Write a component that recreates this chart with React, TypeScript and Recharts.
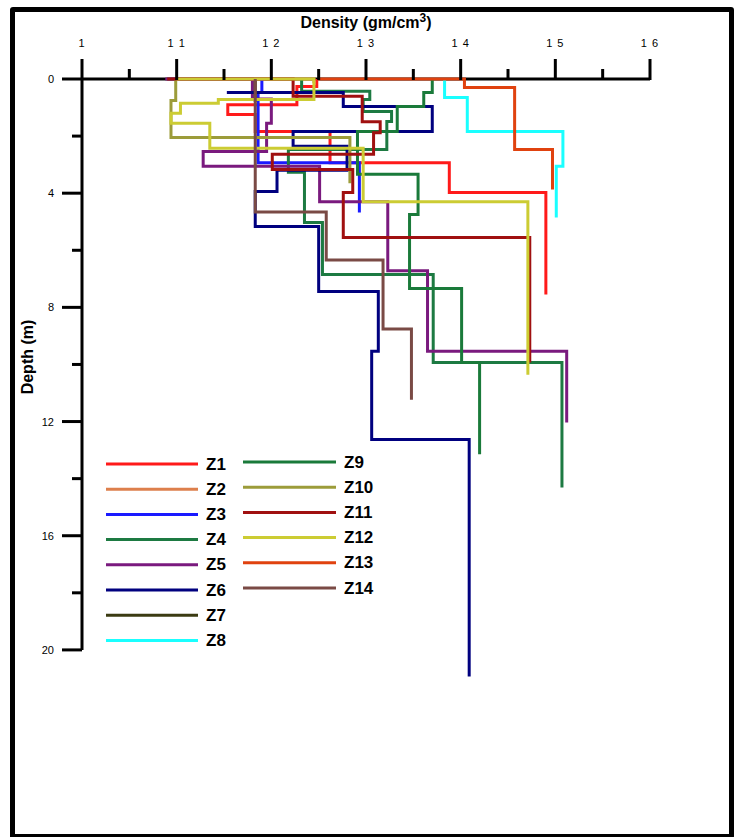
import * as React from "react";
import { Legend, ReferenceLine, Scatter, ScatterChart, XAxis, YAxis } from "recharts";

/* ────────────── data: each zone = [top depth (m), density (gm/cm3)] layers ────────────── */

const ZONE_NAMES = ["Z1", "Z2", "Z3", "Z4", "Z5", "Z6", "Z7", "Z8", "Z9", "Z10", "Z11", "Z12", "Z13", "Z14"];
const ZONE_COLORS = [
  "#ff1a1a", "#dd7f4c", "#1a1aff", "#1d7a42", "#7a1a7e", "#00007f", "#3b3b12",
  "#1affff", "#1a7a3a", "#9c9c3a", "#a01010", "#cccc33", "#e0420f", "#7a4a45",
];

const Z1 = [[0, 1.248], [0.26, 1.227], [0.9, 1.154], [1.24, 1.183], [1.84, 1.262], [2.93, 1.388], [3.98, 1.49]];
const Z2 = [[0, 1.1], [0, 1.245]];
const Z3 = [[0, 1.19], [0.47, 1.186], [2.93, 1.293]];
const Z4 = [[0, 1.232], [0.43, 1.304], [0.72, 1.297], [1.14, 1.327], [1.49, 1.322], [2.47, 1.218], [3.27, 1.235], [5.03, 1.254], [6.85, 1.371], [9.93, 1.507]];
const Z5 = [[0, 1.088], [0, 1.18], [0.7, 1.2], [1.55, 1.195], [2.54, 1.128], [3.06, 1.251], [4.3, 1.323], [6.72, 1.365], [9.54, 1.512]];
const Z6 = [[0.47, 1.153], [0.47, 1.276], [0.96, 1.37], [1.84, 1.223], [2.36, 1.28], [3.2, 1.206], [3.94, 1.183], [5.17, 1.25], [7.44, 1.313], [9.54, 1.306], [12.63, 1.409]];
const Z7 = [[0, 1.183]];
const Z8 = [[0, 1.383], [0.65, 1.407], [1.84, 1.508], [3.06, 1.501]];
const Z9 = [[0, 1.37], [0.47, 1.361], [0.96, 1.333], [1.84, 1.291], [3.34, 1.355], [4.75, 1.346], [7.34, 1.401], [9.93, 1.42]];
const Z10 = [[0, 1.099], [0.75, 1.094], [2.05, 1.283]];
const Z11 = [[0, 1.09], [0, 1.223], [0.6, 1.296], [1.5, 1.315], [1.88, 1.308], [2.64, 1.201], [3.17, 1.286], [3.98, 1.276], [5.55, 1.473]];
const Z12 = [[0, 1.1], [0, 1.245], [0.72, 1.144], [0.85, 1.104], [1.2, 1.094], [1.55, 1.135], [2.43, 1.297], [4.3, 1.471]];
const Z13 = [[0, 1.25], [0, 1.404], [0.3, 1.457], [2.47, 1.497]];
const Z14 = [[0, 1.183], [4.66, 1.258], [6.34, 1.318], [8.76, 1.348]];

const ZONE_LAYERS = [Z1, Z2, Z3, Z4, Z5, Z6, Z7, Z8, Z9, Z10, Z11, Z12, Z13, Z14];
// depth where the last layer of each zone ends
const ZONE_BOTTOMS = [7.55, 0.15, 4.68, 14.31, 12.03, 20.93, 0.8, 4.85, 13.15, 3.65, 9.93, 10.36, 3.87, 11.24];

const X_TICKS = [1, 1.05, 1.1, 1.15, 1.2, 1.25, 1.3, 1.35, 1.4, 1.45, 1.5, 1.55, 1.6];
const X_TICK_LABELS = ["1", "1 1", "1 2", "1 3", "1 4", "1 5", "1 6"];
const Y_TICKS = [0, 2, 4, 6, 8, 10, 12, 14, 16, 18, 20];
const Y_MAJOR = [0, 4, 8, 12, 16, 20];

const FONT = "Arial, 'Liberation Sans', sans-serif";

/* ────────────── helpers ────────────── */

// step profile: each layer is a vertical run, then a horizontal jump to the next density
function profilePoints(layers: number[][], bottom: number) {
  const pts: { density: number; depth: number }[] = [];
  layers.forEach(([top, dens], i) => {
    const next = i + 1 < layers.length ? layers[i + 1][0] : bottom;
    pts.push({ density: dens, depth: top }, { density: dens, depth: next });
  });
  return pts;
}

const isMajorX = (v: number) => Math.abs(v * 10 - Math.round(v * 10)) < 1e-6;

function XTick(props: any) {
  const { x, y, payload } = props;
  const v = payload.value as number;
  const major = isMajorX(v);
  return (
    <g>
      <line x1={x} x2={x} y1={y + 1} y2={y - (major ? 20 : 10)} stroke="#000" strokeWidth={3} />
      {major && (
        <text x={x} y={y - 32} textAnchor="middle" fontSize={11} fontFamily={FONT} letterSpacing={1} fill="#000">
          {X_TICK_LABELS[Math.round((v - 1) * 10)]}
        </text>
      )}
    </g>
  );
}

function YTick(props: any) {
  const { x, y, payload } = props;
  const v = payload.value as number;
  const major = Y_MAJOR.includes(v);
  return (
    <g>
      <line x1={x - (major ? 20 : 10)} x2={x} y1={y} y2={y} stroke="#000" strokeWidth={3} />
      {major && (
        <text x={x - 28} y={y + 4} textAnchor="end" fontSize={11} fontFamily={FONT} fill="#000">
          {v}
        </text>
      )}
    </g>
  );
}

function XTitle() {
  return (
    <text x={366} y={28} textAnchor="middle" fontSize={16} fontWeight="bold" fontFamily={FONT} fill="#000">
      <tspan>Density (gm/cm</tspan>
      <tspan dy={-6} fontSize={12}>3</tspan>
      <tspan dy={6}>)</tspan>
    </text>
  );
}

function YTitle() {
  return (
    <text
      x={27}
      y={357}
      transform="rotate(-90 27 357)"
      textAnchor="middle"
      dominantBaseline="central"
      fontSize={16}
      fontWeight="bold"
      fontFamily={FONT}
      fill="#000"
    >
      Depth (m)
    </text>
  );
}

function ZoneLegend(props: any) {
  const payload = (props.payload ?? []) as { value: string; color: string }[];
  return (
    <svg width={735} height={837} style={{ display: "block" }}>
      {payload.map((p) => {
        const i = ZONE_NAMES.indexOf(p.value);
        const col = i < 8 ? 0 : 1;
        const row = col ? i - 8 : i;
        const x0 = col ? 243 : 106;
        const x1 = col ? 336 : 198;
        const y = (col ? 462 : 464) + row * 25.2;
        return (
          <g key={p.value}>
            <line x1={x0} x2={x1} y1={y} y2={y} stroke={ZONE_COLORS[i]} strokeWidth={3} />
            <text x={x1 + 8} y={y} dominantBaseline="central" fontSize={17} fontWeight="bold" fontFamily={FONT} fill="#000">
              {p.value}
            </text>
          </g>
        );
      })}
    </svg>
  );
}

const noDot = () => <g />;

export default function App() {
  return (
    <div style={{ position: "relative", width: 735, height: 837, background: "#fff" }}>
      <style>{"body{margin:0}"}</style>
      <ScatterChart width={735} height={837} margin={{ top: 39, right: 85, bottom: 130, left: 22 }}>
        <XAxis
          type="number"
          dataKey="density"
          orientation="top"
          domain={[1, 1.6]}
          ticks={X_TICKS}
          height={40}
          tickSize={0}
          tickMargin={0}
          tickLine={false}
          tick={<XTick />}
          axisLine={{ stroke: "#000", strokeWidth: 3 }}
          label={<XTitle />}
        />
        <YAxis
          type="number"
          dataKey="depth"
          reversed
          domain={[0, 22]}
          ticks={Y_TICKS}
          width={60}
          tickSize={0}
          tickMargin={0}
          tickLine={false}
          tick={<YTick />}
          axisLine={false}
          label={<YTitle />}
        />
        <ReferenceLine
          segment={[
            { x: 1, y: 0 },
            { x: 1, y: 20 },
          ]}
          stroke="#000"
          strokeWidth={3}
        />
        {ZONE_LAYERS.map((layers, i) => (
          <Scatter
            key={ZONE_NAMES[i]}
            name={ZONE_NAMES[i]}
            data={profilePoints(layers, ZONE_BOTTOMS[i])}
            fill={ZONE_COLORS[i]}
            line={{ stroke: ZONE_COLORS[i], strokeWidth: 3 }}
            lineType="joint"
            shape={noDot}
            isAnimationActive={false}
          />
        ))}
        <Legend
          layout="horizontal"
          verticalAlign="middle"
          align="center"
          content={<ZoneLegend />}
          wrapperStyle={{ left: 0, top: 0, width: 735, height: 837, pointerEvents: "none" }}
        />
      </ScatterChart>
      <div
        style={{
          position: "absolute",
          left: 10,
          top: 7,
          width: 724,
          height: 832,
          border: "5px solid #000",
          borderRadius: 3,
          boxSizing: "border-box",
          pointerEvents: "none",
        }}
      />
    </div>
  );
}
